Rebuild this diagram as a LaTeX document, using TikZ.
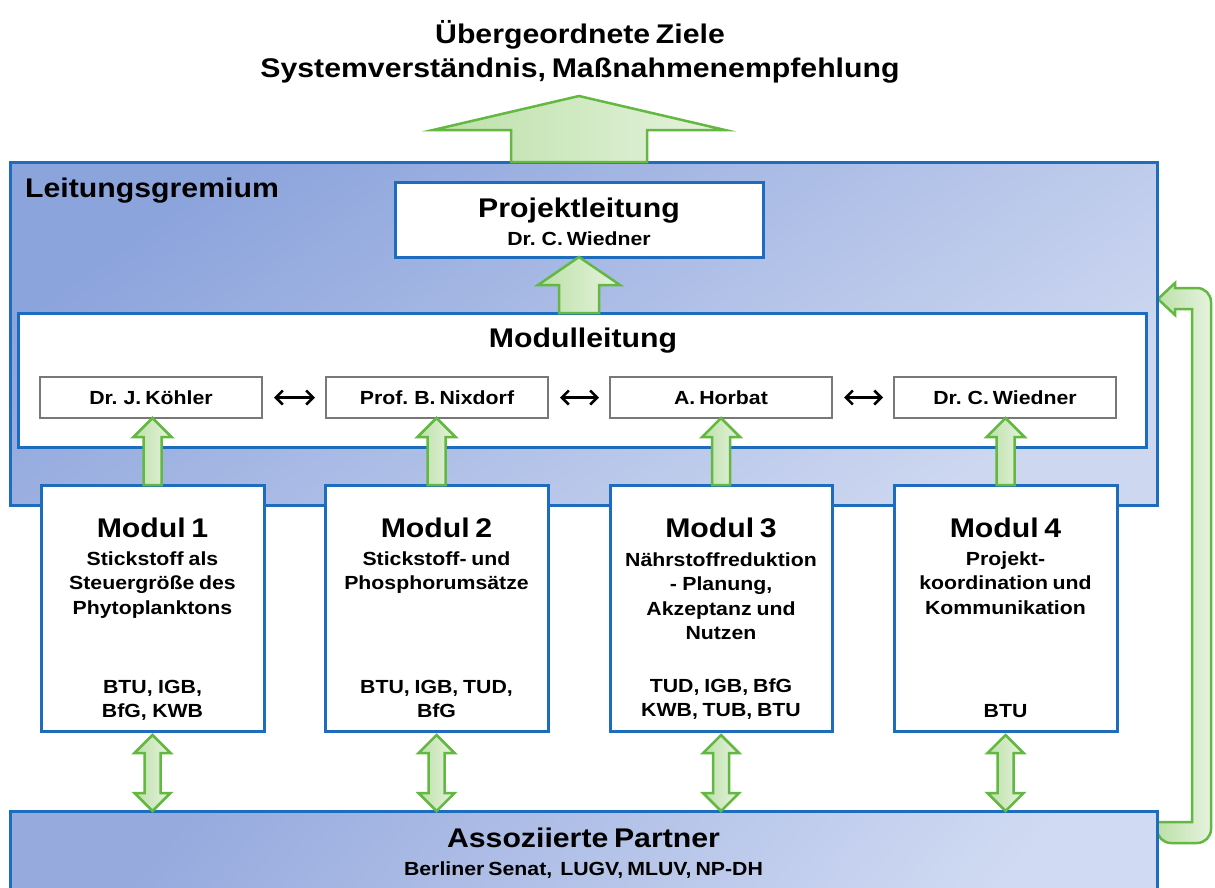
\documentclass[tikz,border=0pt]{standalone}
\usepackage{fontspec}
\setmainfont{Liberation Sans}[FakeStretch=1.12]
\usetikzlibrary{calc,arrows.meta}
\definecolor{bblue}{RGB}{30,108,190}
\definecolor{lgdark}{RGB}{140,164,220}
\definecolor{lglight}{RGB}{205,215,240}
\definecolor{apdark}{RGB}{150,170,222}
\definecolor{aplight}{RGB}{208,218,242}
\definecolor{gline}{RGB}{98,184,64}
\definecolor{gdark}{RGB}{188,224,168}
\definecolor{glight}{RGB}{230,243,222}
\definecolor{pgray}{RGB}{120,120,120}
\newcommand{\fs}[2]{\fontsize{#1}{#2}\selectfont\bfseries\spaceskip=0.21em plus 0.05em}
\pgfdeclarelayer{bg}
\pgfsetlayers{bg,main}
% #1 base point, #2 tip point, #3 shaft half width, #4 head half width, #5 head length
\newcommand{\uparr}[5]{%
  \path[garrow] let \p1=(#1), \p2=(#2) in
    (\x2-#3,\y1) -- (\x2-#3,\y2-#5) -- (\x2-#4,\y2-#5) -- (\x2,\y2)
    -- (\x2+#4,\y2-#5) -- (\x2+#3,\y2-#5) -- (\x2+#3,\y1) -- cycle;}
% #1 top tip, #2 bottom tip
\newcommand{\dblarr}[5]{%
  \path[garrow] let \p1=(#1), \p2=(#2) in
    (\x1,\y1) -- (\x1+#4,\y1-#5) -- (\x1+#3,\y1-#5) -- (\x1+#3,\y2+#5)
    -- (\x1+#4,\y2+#5) -- (\x1,\y2) -- (\x1-#4,\y2+#5) -- (\x1-#3,\y2+#5)
    -- (\x1-#3,\y1-#5) -- (\x1-#4,\y1-#5) -- cycle;}
\tikzset{
  bluebox/.style={draw=bblue, line width=3pt, fill=white, inner sep=0pt, outer sep=0pt},
  namebox/.style={draw=pgray, line width=1.5pt, fill=white, inner sep=0pt, outer sep=0pt,
    minimum width=222pt, minimum height=41pt, text height=13.7pt, text depth=0pt, font=\fs{19}{23}},
  garrow/.style={draw=gline, line width=2.5pt, line join=miter, left color=gdark, right color=glight},
  bigtxt/.style={font=\fs{27}{32}, inner sep=0pt},
  smalltxt/.style={font=\fs{19}{23}, inner sep=0pt},
  modbody/.style={font=\fs{19}{24.5}, inner sep=0pt, text width=218pt, align=center,
    execute at begin node={\spaceskip=0.21em plus 0.05em\relax}},
  dblline/.style={draw=black, line width=2.5pt, {Straight Barb[length=7pt,width=14pt]}-{Straight Barb[length=7pt,width=14pt]}, shorten <=12pt, shorten >=11pt},
}
\begin{document}
\begin{tikzpicture}[x=1pt, y=-1pt]
\useasboundingbox (0,0) rectangle (1215,887);

% title
\node[bigtxt, anchor=base] (title1) at (580,43) {Übergeordnete Ziele};
\node[bigtxt, anchor=base] (title2) at (580,77) {Systemverständnis, Maßnahmenempfehlung};
\coordinate (goal) at (579,96);

% Leitungsgremium
\node[bluebox, minimum width=1147pt, minimum height=343pt, anchor=north west,
      top color=lgdark, bottom color=lglight, shading angle=35] (lg) at (10,162) {};
\node[bigtxt, anchor=base west] (lglabel) at (25,197) {Leitungsgremium};

% Projektleitung
\node[bluebox, minimum width=368pt, minimum height=75pt, anchor=north west] (pl) at (395,182) {};
\node[bigtxt, anchor=base] (pltitle) at (579,217) {Projektleitung};
\node[smalltxt, anchor=base] (plname) at (579,245) {Dr. C. Wiedner};

% Modulleitung
\node[bluebox, minimum width=1128pt, minimum height=134pt, anchor=north west] (ml) at (18,313) {};
\node[bigtxt, anchor=base] (mltitle) at (583,347) {Modulleitung};
\node[namebox, anchor=north west] (p1) at (40,377) {Dr. J. Köhler};
\node[namebox, anchor=north west] (p2) at (326,377) {Prof. B. Nixdorf};
\node[namebox, anchor=north west] (p3) at (610,377) {A. Horbat};
\node[namebox, anchor=north west] (p4) at (894,377) {Dr. C. Wiedner};
\draw[dblline] (p1.east) -- (p2.west);
\draw[dblline] (p2.east) -- (p3.west);
\draw[dblline] (p3.east) -- (p4.west);

% Modules
\node[bluebox, minimum width=223pt, minimum height=246pt, anchor=north west] (m1) at (41,485) {};
\node[bluebox, minimum width=223pt, minimum height=246pt, anchor=north west] (m2) at (325,485) {};
\node[bluebox, minimum width=222pt, minimum height=246pt, anchor=north west] (m3) at (610,485) {};
\node[bluebox, minimum width=223pt, minimum height=246pt, anchor=north west] (m4) at (894,485) {};

\node[bigtxt, anchor=base] (m1h) at ($(m1.north)+(0,52)$) {Modul 1};
\node[modbody, anchor=base] (m1b) at ($(m1.north)+(0,80)$) {Stickstoff als\\Steuergröße des\\Phytoplanktons};
\node[modbody, anchor=base] (m1p) at ($(m1.north)+(0,208)$) {BTU, IGB,\\BfG, KWB};

\node[bigtxt, anchor=base] (m2h) at ($(m2.north)+(0,52)$) {Modul 2};
\node[modbody, anchor=base] (m2b) at ($(m2.north)+(0,80)$) {Stickstoff- und\\Phosphorumsätze};
\node[modbody, anchor=base] (m2p) at ($(m2.north)+(0,208)$) {BTU, IGB,\ TUD,\\BfG};

\node[bigtxt, anchor=base] (m3h) at ($(m3.north)+(0,52)$) {Modul 3};
\node[modbody, anchor=base] (m3b) at ($(m3.north)+(0,81)$) {Nährstoffreduktion\\- Planung,\\Akzeptanz und\\Nutzen};
\node[modbody, anchor=base] (m3p) at ($(m3.north)+(0,207)$) {TUD, IGB, BfG\\KWB, TUB, BTU};

\node[bigtxt, anchor=base] (m4h) at ($(m4.north)+(0,52)$) {Modul 4};
\node[modbody, anchor=base] (m4b) at ($(m4.north)+(0,80)$) {Projekt-\\koordination und\\Kommunikation};
\node[modbody, anchor=base] (m4p) at ($(m4.north)+(0,232)$) {BTU};

% Assoziierte Partner
\node[bluebox, minimum width=1147pt, minimum height=100pt, anchor=north west,
      top color=apdark, bottom color=aplight, shading angle=50] (ap) at (10,811) {};
\node[bigtxt, anchor=base] (aptitle) at ($(ap.north)+(0,36)$) {Assoziierte Partner};
\node[smalltxt, anchor=base] (apsub) at ($(ap.north)+(0,64)$) {Berliner Senat,\ \ LUGV, MLUV, NP-DH};

% green arrows
\uparr{goal |- lg.north}{goal}{68pt}{146pt}{34pt}
\uparr{pl.south |- ml.north}{pl.south}{20pt}{41pt}{28pt}
\uparr{m1.north}{m1.north |- p1.south}{9pt}{19pt}{19pt}
\uparr{m2.north}{m2.north |- p2.south}{9pt}{19pt}{19pt}
\uparr{m3.north}{m3.north |- p3.south}{9pt}{19pt}{19pt}
\uparr{m4.north}{m4.north |- p4.south}{9pt}{19pt}{19pt}
\dblarr{$(m1.south)+(0,4)$}{m1.south |- ap.north}{8pt}{18pt}{18pt}
\dblarr{$(m2.south)+(0,4)$}{m2.south |- ap.north}{8pt}{18pt}{18pt}
\dblarr{$(m3.south)+(0,4)$}{m3.south |- ap.north}{8pt}{18pt}{18pt}
\dblarr{$(m4.south)+(0,4)$}{m4.south |- ap.north}{8pt}{18pt}{18pt}

% return arrow
\coordinate (rtip) at ($(lg.north east)+(1,137)$);
\begin{pgfonlayer}{bg}
\path[garrow]
  ($(ap.north east)+(0,11)$) -- ++(35,0)
  |- ($(rtip)+(17,10)$) -- ++(0,6) -- (rtip) -- ++(17,-16) -- ++(0,5)
  [rounded corners=14pt] -| ($(ap.north east)+(54,32)$) -- ($(ap.north east)+(0,32)$)
  [sharp corners] -- cycle;
\end{pgfonlayer}
\end{tikzpicture}
\end{document}
